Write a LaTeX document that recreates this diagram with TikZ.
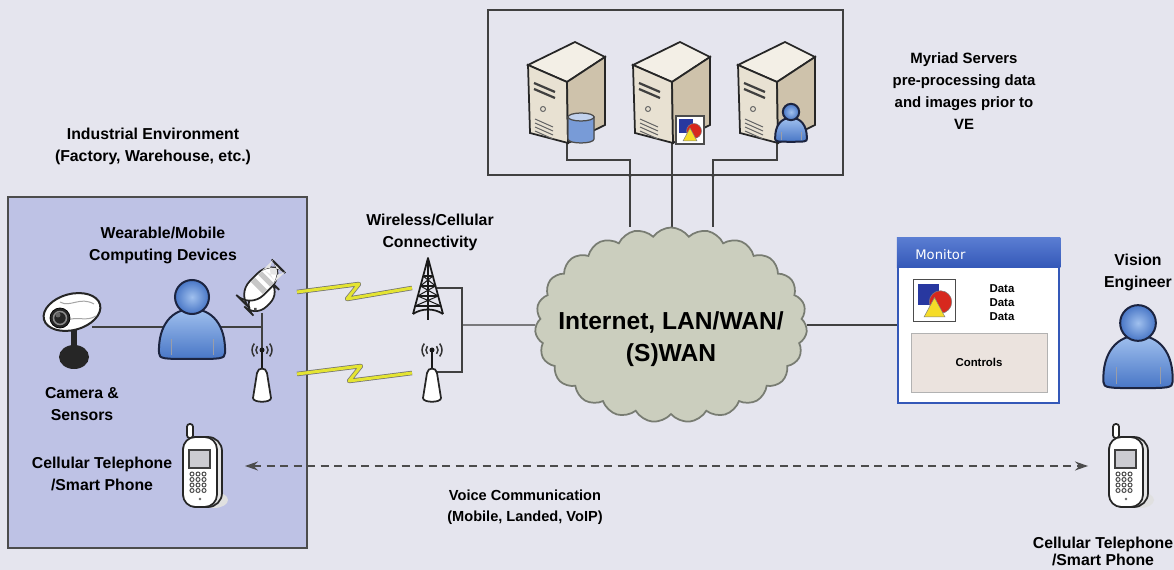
\documentclass[tikz,border=0pt]{standalone}
\usepackage{fontspec}
\setmainfont{Liberation Sans}
\newfontfamily\uifont{DejaVu Sans}
\usepackage{tikz}
\usetikzlibrary{arrows.meta}
\usetikzlibrary{shapes.symbols}

\definecolor{paper}{RGB}{229,229,238}
\definecolor{siteblue}{RGB}{190,194,229}
\definecolor{cloudgrey}{RGB}{203,206,190}
\definecolor{cloudline}{RGB}{120,124,114}
\definecolor{userlight}{RGB}{160,192,238}
\definecolor{userdark}{RGB}{72,118,198}
\definecolor{useredge}{RGB}{28,36,64}
\definecolor{casefront}{RGB}{232,225,210}
\definecolor{caseside}{RGB}{206,194,171}
\definecolor{casetop}{RGB}{243,239,230}
\definecolor{dbblue}{RGB}{120,155,215}
\definecolor{chartblue}{RGB}{40,56,160}
\definecolor{chartred}{RGB}{215,40,30}
\definecolor{chartyellow}{RGB}{245,220,40}
\definecolor{winblue}{RGB}{52,88,184}
\definecolor{titletop}{RGB}{90,125,210}
\definecolor{panelpink}{RGB}{235,227,222}
\definecolor{boltyellow}{RGB}{228,228,50}

\pgfdeclarelayer{paperlayer}
\pgfdeclarelayer{wirelayer}
\pgfsetlayers{paperlayer,wirelayer,main}

\tikzset{
  txt/.style={align=center, inner sep=0pt, font=\bfseries\fontsize{9}{12.5}\selectfont},
  ink/.style={draw=black!85, line width=0.35mm},
  link/.style={draw=black!75, line width=0.25mm},
  bolt/.style={draw=black!55, line width=0.15mm, double=boltyellow, double distance=0.6mm, line join=round},
  voice/.style={draw=black!70, line width=0.25mm, dash pattern=on 1.6mm off 1.1mm, <->, >={Stealth[length=2.6mm,width=1.8mm]}},
  % person icon, origin at the head
  user/.pic={
    \filldraw [draw=useredge, line width=0.4mm, top color=userlight, bottom color=userdark]
      (-33,56) .. controls (-34,28) and (-20,12) .. (0,12)
      .. controls (20,12) and (34,28) .. (33,56)
      .. controls (33,62) and (28,62) .. (0,62)
      .. controls (-28,62) and (-33,62) .. (-33,56) -- cycle;
    \draw [useredge!45, line width=0.15mm] (-21,42) -- (-21,58) (21,42) -- (21,58);
    \filldraw [draw=useredge, line width=0.4mm, inner color=userlight, outer color=userdark] (0,0) circle (17);
  },
  % tower case, origin at the front top corner
  server/.pic={
    \filldraw [ink, fill=casetop] (0,0) -- (47,-23) -- (77,-8) -- (39,17) -- cycle;
    \filldraw [ink, fill=casefront] (0,0) -- (39,17) -- (40,78) -- (2,68) -- cycle;
    \filldraw [ink, fill=caseside] (39,17) -- (77,-8) -- (77,60) -- (40,78) -- cycle;
    \draw [black!75, line width=0.45mm] (6,18) -- (27,27) (6,24) -- (27,33);
    \draw [black!60, line width=0.2mm] (15,44) circle (2.5);
    \foreach \v in {54,58,62,66}
      \draw [black!60, line width=0.2mm] (7,\v) -- (25,\v+8);
    \coordinate (-port) at (39,78);
  },
  database/.pic={
    \filldraw [draw=black!70, line width=0.25mm, left color=dbblue, middle color=white!65!dbblue, right color=dbblue]
      (-13,-11) -- (-13,11) .. controls (-13,16.3) and (13,16.3) .. (13,11) -- (13,-11) -- cycle;
    \filldraw [draw=black!70, line width=0.25mm, fill=white!55!dbblue] (0,-11) ellipse (13 and 4);
  },
  chart/.pic={
    \filldraw [fill=white, draw=black!70, line width=0.3mm] (-14,-14) rectangle (14,14);
    \fill [chartblue] (-11,-11) rectangle (3,3);
    \filldraw [fill=chartred, draw=black!50, line width=0.1mm] (4,1) circle (7.5);
    \filldraw [fill=chartyellow, draw=black!50, line width=0.1mm] (-7,11) -- (0,-2) -- (7,11) -- cycle;
  },
  camera/.pic={
    \fill [black!85] (-1,16) rectangle (5,36);
    \fill [black!85] (2,45) ellipse (15 and 12);
    \filldraw [fill=white, draw=black!85, line width=0.4mm, rotate=15] (0,0) ellipse (29 and 18);
    \draw [black!35, line width=0.2mm] (-12,-10) .. controls (-2,-4) and (8,-16) .. (22,-8)
      (-4,8) .. controls (6,4) and (14,10) .. (24,4);
    \filldraw [fill=black!85, draw=black] (-12,6) circle (10);
    \draw [black!45, line width=0.3mm] (-12,6) circle (6.5);
    \fill [black!60] (-14,3) circle (2.5);
    \coordinate (-port) at (20,15);
  },
  flipphone/.pic={
    \begin{scope}[rotate=45, scale=0.85]
      \filldraw [ink, fill=white, rounded corners=9] (-31,-2) rectangle (12,20);
      \filldraw [ink, fill=white, rounded corners=11] (-28,-15) rectangle (31,8);
      \fill [black!22] (-5,-13.5) rectangle (2,6.5) (7,-13.5) rectangle (13,6.5);
      \fill [black!10, rounded corners=9] (16,-13.5) rectangle (29.5,6.5);
      \fill [black!70] (-24,13) circle (2.2);
    \end{scope}
    \coordinate (-side) at (35,5);
    \coordinate (-base) at (0,26);
  },
  cellphone/.pic={
    \fill [black!12] (12,32) ellipse (14 and 8);
    \filldraw [ink, fill=white, rounded corners=1.5] (-15,-44) rectangle (-9,-30);
    \filldraw [ink, fill=black!10, rounded corners=8] (-19,-31) rectangle (20,39);
    \filldraw [ink, fill=white, rounded corners=7] (-19,-31) rectangle (15,39);
    \filldraw [fill=blue!10!black!20, draw=black!75, line width=0.25mm] (-13,-18) rectangle (8,0);
    \foreach \row in {0,...,3}
      \foreach \col in {0,1,2}
        \draw [black!70, line width=0.2mm] (-10+\col*6,6+\row*5.5) circle (2);
    \fill [black!60] (-2,31) circle (1.3);
    \coordinate (-east) at (20,-2);
    \coordinate (-west) at (-18,-2);
  },
  tower/.pic={
    \draw [black!90, line width=0.35mm, line join=round]
      (-15,56) -- (0,0) -- (15,56) (0,0) -- (0,62)
      (-15,56) .. controls (-6,50) and (6,50) .. (15,56);
    \foreach \h in {18,28,38,48}
      \draw [black!90, line width=0.25mm] (-0.27*\h,\h) -- (0.27*\h,\h);
    \draw [black!90, line width=0.2mm] (-4.9,18) -- (7.6,28) -- (-10.3,38) -- (13,48)
      (4.9,18) -- (-7.6,28) -- (10.3,38) -- (-13,48);
    \coordinate (-west) at (-16,30);
    \coordinate (-east) at (9,30);
  },
  router/.pic={
    \fill [black!90] (0,0) circle (2.5);
    \draw [black!80, line width=0.3mm]
      (4.6,-3.86) arc [start angle=-40, end angle=40, radius=6]
      (7.66,-6.43) arc [start angle=-40, end angle=40, radius=10]
      (-4.6,3.86) arc [start angle=140, end angle=220, radius=6]
      (-7.66,6.43) arc [start angle=140, end angle=220, radius=10];
    \draw [black!90, line width=0.35mm] (0,0) -- (0,20);
    \filldraw [ink, fill=white] (-5,23) .. controls (-4,17) and (4,17) .. (5,23)
      -- (9,48) .. controls (9,53) and (-9,53) .. (-9,48) -- cycle;
    \coordinate (-top) at (0,18);
    \coordinate (-east) at (5,22);
    \coordinate (-west) at (-20,23);
  }
}

\begin{document}
\begin{tikzpicture}[x=0.2mm, y=-0.2mm]
    \useasboundingbox (0,0) rectangle (1174,570);
    \begin{pgfonlayer}{paperlayer}
    \fill [paper] (0,0) rectangle (1174,570);
    \node [draw=black!70, line width=0.3mm, fill=siteblue, minimum width=59.8mm, minimum height=70.2mm] (0) at (157.5,372.5) {}; % site
    \node [draw=black!75, line width=0.3mm, minimum width=71mm, minimum height=33mm] (10) at (665.5,92.5) {}; % server room
    \end{pgfonlayer}
    % industrial site
    \node [txt] (1) at (153,146) {Industrial Environment\\(Factory, Warehouse, etc.)};
    \node [txt] (2) at (163,245) {Wearable/Mobile\\Computing Devices};
    \node [txt] (3) at (82,404) {Camera \&\\Sensors};
    \node [txt] (4) at (102,474) {Cellular Telephone\\/Smart Phone};
    \pic (6) at (72,312) {camera};
    \pic (7) at (192,297) {user};
    \pic (8) at (262,287) {flipphone};
    \pic (9) at (262,350) {router};
    \pic (11) at (202,468) {cellphone};
    \coordinate (18) at (262,327);
    \coordinate (33) at (297,374);
    % wireless link
    \node [txt] (5) at (430,232) {Wireless/Cellular\\Connectivity};
    \pic (16) at (428,258) {tower};
    \pic (17) at (432,350) {router};
    \coordinate (19) at (462,325);
    % servers
    \pic (12) at (528,65) {server};
    \pic (13) at (633,65) {server};
    \pic (14) at (738,65) {server};
    \pic at (581,128) {database};
    \pic at (690,130) {chart};
    \pic [scale=0.48] at (791,112) {user};
    \coordinate (31) at (630,160);
    \coordinate (32) at (713,160);
    \node [txt, font=\bfseries\fontsize{8.5}{12.5}\selectfont] (15) at (964,91) {Myriad Servers\\pre-processing data\\and images prior to\\VE};
    % network
    \node [cloud, cloud puffs=23, cloud puff arc=110, cloud ignores aspect, draw=cloudline, fill=cloudgrey, line width=0.35mm, minimum width=54.4mm, minimum height=39mm, inner sep=0pt] (20) at (671,325) {};
    \node [txt, font=\bfseries\fontsize{14}{18}\selectfont] (30) at (671,339) {Internet, LAN/WAN/\\(S)WAN};
    % monitor window
    \node [draw=winblue, line width=0.5mm, fill=white, minimum width=32.2mm, minimum height=32.8mm, inner sep=0pt] (21) at (978.5,321) {};
    \shade [top color=titletop, bottom color=winblue] (21.north west) rectangle ([yshift=-6mm]21.north east);
    \node [anchor=west, text=white, inner sep=0pt, font=\uifont\fontsize{7.5}{9}\selectfont] (22) at (915,255) {Monitor};
    \pic [scale=1.5] at (934.5,300.5) {chart};
    \node [txt, font=\bfseries\fontsize{6.5}{8}\selectfont] (23) at (1002,303) {Data\\Data\\Data};
    \node [fill=panelpink, draw=black!30, minimum width=27.2mm, minimum height=11.8mm, font=\bfseries\fontsize{6.5}{8}\selectfont] (24) at (979,362.5) {Controls};
    % engineer
    \node [txt] (25) at (1138,272) {Vision\\Engineer};
    \pic [scale=1.05] (26) at (1138,323) {user};
    \pic (27) at (1128,468) {cellphone};
    \node [txt, font=\bfseries\fontsize{9}{9.6}\selectfont] (28) at (1103,551) {Cellular Telephone\\/Smart Phone};
    \node [txt, font=\bfseries\fontsize{8.3}{12}\selectfont] (29) at (525,507) {Voice Communication\\(Mobile, Landed, VoIP)};
    % connections
    \begin{pgfonlayer}{wirelayer}
    \draw [link] (6-port) to (18);
    \draw [link] (8-base) to (9-top);
    \draw [bolt] (8-side) -- ++(62,-8) -- ++(-12,15) -- (16-west);
    \draw [bolt] (33) -- ++(64,-8) -- ++(-12,15) -- (17-west);
    \draw [link] (16-east) -| (19) |- (17-east);
    \draw [link] (19) to (20.west);
    \draw [link] (12-port) |- (31) to (31 |- 20.north);
    \draw [link] (13-port) to (13-port |- 20.north);
    \draw [link] (14-port) |- (32) to (32 |- 20.north);
    \foreach \b in {31,32} \fill [black!75] (\b |- 10.south) circle (1.8);
    \draw [link] (20.east) to (20.east -| 21.west);
    \draw [voice, shorten <=4.6mm, shorten >=4.4mm] (11-east) to (27-west);
    \end{pgfonlayer}
\end{tikzpicture}
\end{document}
